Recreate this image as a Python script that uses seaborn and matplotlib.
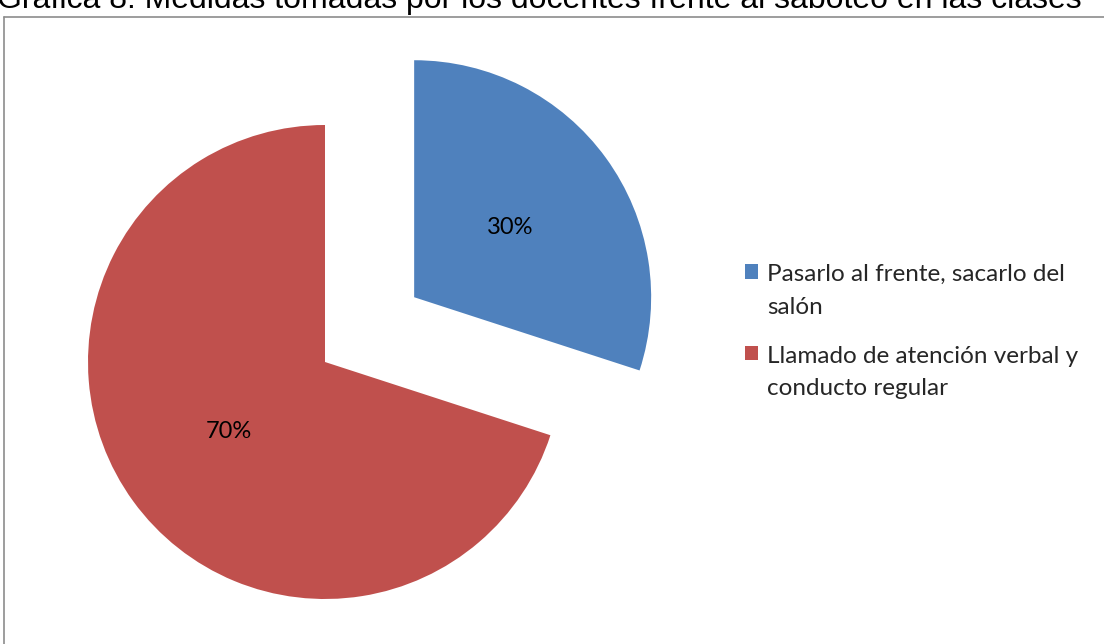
import matplotlib
matplotlib.use("Agg")
import matplotlib.pyplot as plt
import seaborn as sns
from matplotlib.lines import Line2D

# Datos
categorias = ['Pasarlo al frente, sacarlo del\nsalón',
              'Llamado de atención verbal y\nconducto regular']
porcentajes = [30, 70]
colores = ['#4F81BD', '#C0504D']
titulo = 'Gráfica 8. Medidas tomadas por los docentes frente al saboteo en las clases'

sns.set_theme(style="white")
plt.rcParams['font.family'] = ['Lato', 'DejaVu Sans']

W, H = 1104, 644
fig = plt.figure(figsize=(W / 100, H / 100), dpi=100)
fig.patch.set_facecolor('white')

# ejes en pixeles: centro del pastel en (325, 362) con radio 237
cx, cy, r = 325, H - 362, 237
x0, x1, y0, y1 = 60, 720, 20, 625
ax = fig.add_axes([x0 / W, y0 / H, (x1 - x0) / W, (y1 - y0) / H])

wedges, textos, autotextos = ax.pie(
    porcentajes, colors=colores, startangle=90, counterclock=False,
    explode=[0.465, 0], autopct='%1.0f%%', pctdistance=0.5,
    textprops={'fontsize': 17, 'color': 'black'},
    wedgeprops={'linewidth': 0})
ax.set_xlim((x0 - cx) / r, (x1 - cx) / r)
ax.set_ylim((y0 - cy) / r, (y1 - cy) / r)
ax.set_aspect('auto')
ax.axis('off')
for w in wedges:
    w.set_clip_on(False)

# leyenda
leg = fig.legend(wedges, categorias, loc='upper left',
                 bbox_to_anchor=(745 / W, 1 - 264 / H),
                 frameon=False, fontsize=17.5, handlelength=0.55,
                 handleheight=0.55, handletextpad=0.35, labelspacing=1.15,
                 borderaxespad=0, borderpad=0)
for t in leg.get_texts():
    t.set_linespacing(1.68)
# el cuadro de color alineado con la primera linea del texto
for hp in leg._legend_handle_box.get_children():
    for fila in hp.get_children():
        fila.align = 'top'

# marco del gráfico (solo borde izquierdo y superior visibles)
fig.add_artist(Line2D([3.5 / W, 3.5 / W], [0, 1 - 16.5 / H],
                      transform=fig.transFigure, color='#8c8c8c', lw=1.2))
fig.add_artist(Line2D([3.5 / W, 1], [1 - 16.5 / H, 1 - 16.5 / H],
                      transform=fig.transFigure, color='#8c8c8c', lw=1.2))

# título recortado en el borde superior
fig.text(-3 / W, 1 - 8 / H, titulo, fontsize=23, family=['Liberation Sans'],
         ha='left', va='baseline', color='black')

fig.savefig('out.png', dpi=100, facecolor='white')
